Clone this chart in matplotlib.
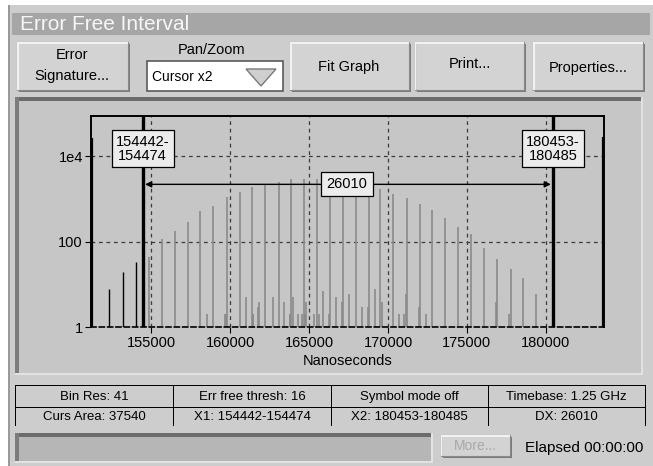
import numpy as np
import matplotlib
matplotlib.use("Agg")
import matplotlib.pyplot as plt
from matplotlib.patches import Rectangle, Polygon

plt.rcParams['font.family'] = ['Liberation Sans', 'DejaVu Sans']

# histogram of error free intervals (ns -> count)
main_ns = [152351, 153188, 154062, 154886, 155659, 156483, 157326, 158086, 158929, 159778,
           160602, 161381, 162237, 163073, 163853, 164677, 165513, 166343, 167129, 167953,
           168796, 169512, 170336, 171185, 172009, 172788, 173631, 174455, 175240, 176065,
           176888, 177775, 178555, 179378]
main_cnt = [8, 20, 34, 44, 117, 181, 286, 522, 694, 1107,
            1449, 1928, 2159, 2443, 2917, 2917, 2917, 2766, 2483, 2229,
            1897, 1686, 1280, 1033, 752, 550, 364, 217, 149, 70,
            39, 23, 14, 6]
side_ns = [158530, 159702, 159740, 160982, 161426, 161460, 161760, 161830, 162693, 163441,
           163789, 163820, 163999, 164296, 164531, 164721, 164750, 164835, 165342, 165646,
           165900, 166280, 166736, 167066, 167497, 168352, 168732, 169176, 169600, 170716,
           171026, 171140, 171964, 172408, 176824, 177687]
side_cnt = [2, 2, 2, 5, 2, 2, 3, 4, 5, 4,
            2, 2, 5, 2, 2, 2, 2, 4, 2, 2,
            7, 2, 5, 4, 6, 3, 3, 8, 4, 2,
            2, 6, 3, 2, 4, 2]
edge_ns = [151260, 183643]
edge_cnt = [26500, 28000]

x1_lo, x1_hi = 154442, 154474
x2_lo, x2_hi = 180453, 180485
dx = 26010

status_rows = [["Bin Res: 41", "Err free thresh: 16", "Symbol mode off", "Timebase: 1.25 GHz"],
               ["Curs Area: 37540", "X1: 154442-154474", "X2: 180453-180485", "DX: 26010"]]

W, H = 653, 466
fig = plt.figure(figsize=(W / 100, H / 100), dpi=100, facecolor='white')


def rect(x0, y0, x1, y1, **kw):
    fig.patches.append(Rectangle((x0 / W, 1 - y1 / H), (x1 - x0) / W, (y1 - y0) / H,
                                 transform=fig.transFigure, **kw))


def txt(x, y, s, **kw):
    kw.setdefault('ha', 'center')
    kw.setdefault('va', 'center')
    kw.setdefault('fontsize', 10.5)
    fig.text(x / W, 1 - y / H, s, **kw)


def button(x0, y0, x1, y1):
    rect(x0 + 2, y0 + 2, x1 + 2, y1 + 2, color='#7a7a7a', lw=0)
    rect(x0, y0, x1, y1, facecolor='#d3d3d3', edgecolor='#8a8a8a', lw=0.8)
    rect(x0, y0, x1, y0 + 1.5, color='#f2f2f2', lw=0)
    rect(x0, y0, x0 + 1.5, y1, color='#f2f2f2', lw=0)


def sunken(x0, y0, x1, y1, face):
    rect(x0, y0, x1, y1, color=face, lw=0)
    rect(x0, y0, x1, y0 + 4, color='#6c6c6c', lw=0)
    rect(x0, y0, x0 + 4, y1, color='#7c7c7c', lw=0)
    rect(x0, y1 - 2, x1, y1, color='#e2e2e2', lw=0)
    rect(x1 - 2, y0, x1, y1, color='#e2e2e2', lw=0)


# window
rect(8, 5, 653, 466, color='#cdcdcd', lw=0)
rect(8, 5, 10, 466, color='#9a9a9a', lw=0)
rect(12, 13, 650, 35, color='#a6a6a6', lw=0)
txt(20, 24, "Error Free Interval", ha='left', fontsize=15, color='#f6f6f6')

# toolbar
button(17, 42, 128, 90)
txt(72, 55, "Error")
txt(72, 76, "Signature...")
txt(212, 50, "Pan/Zoom")
rect(147, 61, 283, 91, facecolor='white', edgecolor='#5a5a5a', lw=1.2)
txt(152, 77, "Cursor x2", ha='left', fontsize=10)
fig.patches.append(Polygon([(246 / W, 1 - 69 / H), (276 / W, 1 - 69 / H), (261 / W, 1 - 86 / H)],
                           closed=True, transform=fig.transFigure,
                           facecolor='#cfcfcf', edgecolor='#7a7a7a', lw=1))
button(290, 42, 409, 90)
txt(349, 67, "Fit Graph")
button(415, 42, 524, 90)
txt(470, 64, "Print...")
button(533, 42, 643, 90)
txt(588, 68, "Properties...")

# chart panel
sunken(15, 97, 643, 375, '#c6c6c6')

ax = fig.add_axes([91.3 / W, 1 - 327.3 / H, 513 / W, 211.6 / H])
ax.set_zorder(5)
ax.set_facecolor('#c6c6c6')
ax.set_yscale('log')
ax.set_xlim(151198, 183707)
ax.set_ylim(1, 8.8e4)

c1 = (x1_lo + x1_hi) / 2
c2 = (x2_lo + x2_hi) / 2
main_ns = np.array(main_ns)
inside = (main_ns > c1) & (main_ns < c2)
ax.vlines(main_ns[inside], 1, np.array(main_cnt)[inside], color='#8a8a8a', lw=1.2, zorder=2)
ax.vlines(main_ns[~inside], 1, np.array(main_cnt)[~inside], color='black', lw=1.0, zorder=2)
ax.vlines(side_ns, 1, side_cnt, color='#8a8a8a', lw=1.2, zorder=2)
ax.vlines(edge_ns, 1, edge_cnt, color='black', lw=1.6, zorder=2)

ax.set_xticks([155000, 160000, 165000, 170000, 175000, 180000])
ax.set_yticks([1, 100, 1e4])
ax.set_yticklabels(["1", "100", "1e4"])
ax.minorticks_off()
ax.grid(True, ls=(0, (3, 3)), color='#3a3a3a', lw=0.9, zorder=1)
ax.tick_params(axis='both', labelsize=10.5, direction='out', length=4, width=0.8, pad=2)
ax.set_xlabel("Nanoseconds", fontsize=10.5, labelpad=3)
for s in ['left', 'right', 'top']:
    ax.spines[s].set_linewidth(1.4)
ax.spines['bottom'].set_linestyle((0, (3, 2)))
ax.spines['bottom'].set_linewidth(1.2)

# cursors
ax.axvline(c1, color='black', lw=2.4, zorder=4)
ax.axvline(c2, color='black', lw=2.4, zorder=4)
box = dict(boxstyle='square,pad=0.3', facecolor='#ececec', edgecolor='black', lw=0.9)
ax.text(c1, 15000, f"{x1_lo}-\n{x1_hi}", ha='center', va='center', fontsize=10.5,
        linespacing=1.0, bbox=box, zorder=6)
ax.text(c2, 15000, f"{x2_lo}-\n{x2_hi}", ha='center', va='center', fontsize=10.5,
        linespacing=1.0, bbox=box, zorder=6)
ax.annotate('', xy=(c1 + 150, 2190), xytext=(c2 - 150, 2190),
            arrowprops=dict(arrowstyle='<|-|>', color='black', lw=1.0, mutation_scale=9,
                            shrinkA=0, shrinkB=0), zorder=5)
ax.text(167401, 2190, str(dx), ha='center', va='center', fontsize=10.5,
        bbox=dict(boxstyle='square,pad=0.35', facecolor='#ececec', edgecolor='black', lw=0.9),
        zorder=6)

# status table
rect(15, 384.5, 645, 385.5, color='black', lw=0)
rect(15, 406.5, 645, 407.5, color='black', lw=0)
col_edges = [15, 173, 331, 488, 645]
for xe in col_edges:
    rect(xe - 0.5, 385, xe + 0.5, 426, color='black', lw=0)
for r, yc in enumerate([397, 417]):
    for c in range(4):
        txt((col_edges[c] + col_edges[c + 1]) / 2, yc, status_rows[r][c], fontsize=9.5)

# bottom bar
sunken(15, 433, 433, 463, '#b6b6b6')
button(441, 435, 510, 456)
txt(475, 446, "More...", fontsize=10, color='#a8a8a8')
txt(525, 448, "Elapsed 00:00:00", ha='left', fontsize=11)

fig.savefig("out.png", dpi=100, facecolor=fig.get_facecolor())
